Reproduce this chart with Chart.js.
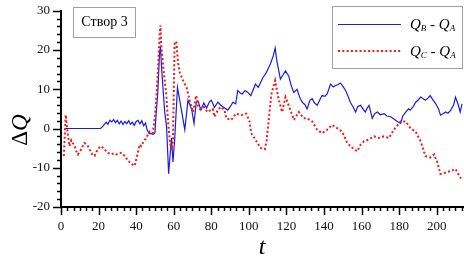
<!DOCTYPE html>
<html>
<head>
<meta charset="utf-8">
<script src="https://cdn.jsdelivr.net/npm/chart.js@4.4.0/dist/chart.umd.min.js"></script>
<style>
  html, body { margin: 0; padding: 0; background: #fff; }
  #wrap { width: 464px; height: 261px; position: relative; }
</style>
</head>
<body>
<div id="wrap"><canvas id="chart" width="464" height="261"></canvas></div>
<script>
// Q_B - Q_A (blue solid)
var tB = [2, 21, 22, 23, 24, 25, 26, 27, 28, 29, 30, 31, 32, 33, 34, 35, 36, 37, 38, 39, 40, 41, 42, 43, 44, 45, 46, 47, 48, 49, 50,
  50.6, 51.5, 52.5, 53, 53.6, 55.2, 56.2, 57.3, 58.8, 59.6, 60.5, 62, 64, 65.9, 67.6, 69.5, 70.8, 72, 73, 74.5, 76, 77.5, 79, 80,
  81.7, 83.5, 85, 86.5, 88.8, 90, 91.5, 93, 94.1, 95.5, 96.5, 98, 99.5, 101, 102, 103.5, 105, 106, 107.5, 109, 110, 111.5, 113, 114,
  115, 116.8, 118, 119.5, 121.2, 122.5, 123.9, 125.7, 127, 128.4, 130, 131, 132.5, 133.7, 135, 136.4, 138, 139, 140.5, 141.7, 143.5,
  145, 146, 147.5, 148.7, 150, 151.5, 153, 154, 155.5, 156.8, 158, 159.5, 161, 162, 163, 164, 165.7, 167, 168.4, 170, 171.9, 173.5,
  175.5, 177, 179, 180.8, 182, 183.5, 185, 186, 187.5, 188.8, 190, 191.5, 193, 194, 195.5, 196.5, 198, 199.5, 201, 202, 203.5,
  204.8, 206, 207.5, 209, 210, 211.5, 212.5, 213.5];
var vB = [0, 0, 0.4, 1.0, 1.6, 1.1, 2.1, 1.7, 2.3, 1.5, 2.1, 1.2, 1.9, 1.0, 1.8, 1.2, 2.0, 1.1, 1.6, 0.8, 1.8, 2.1, 1.2, 2.0, 0.7, 1.4, -0.6, -1.3, -1.3, -1.5, -1.1,
  3.4, 9, 19.7, 20.5, 15, 4.2, 0.5, -11.5, -2.4, -8.5, -3, 10.5, 5, -0.3, 7.2, 5, 1.3, 6.7, 7, 4.7, 6.5, 5.2, 6.8, 7.2,
  5.4, 6.7, 6, 5.4, 4.7, 5.5, 6.7, 6.3, 9.7, 9, 8.8, 9.7, 9.2, 8.4, 9.5, 11.3, 10.5, 11.5, 13, 14, 15, 16.5, 18.5, 20.5,
  17, 12.6, 13.5, 14.7, 13.4, 11, 9.2, 10, 8, 6.7, 6, 5, 7.2, 7.6, 6.5, 5.9, 7.5, 8.4, 8.2, 8.8, 11.3,
  10.6, 10.9, 11.2, 11.6, 10.8, 9.7, 8, 6.7, 5.5, 4.2, 5.6, 5.9, 4.8, 4.2, 5.2, 5.9, 2.6, 3.8, 4.2, 3.5, 3.8, 3.2,
  3, 2.5, 1.8, 1.3, 3.2, 4.2, 5, 4.7, 5.6, 6.7, 7.2, 8, 7.5, 7.2, 7.8, 8.4, 7.3, 6.3, 5, 3.4, 3.8,
  4.2, 3.9, 4.7, 6, 8, 6, 4.2, 6.3];

// Q_C - Q_A (red dotted)
var tC = [1.5, 2.5, 3.5, 4.5, 5.5, 6.3, 7.2, 8.1, 9, 10, 10.8, 11.7, 12.5, 13.4, 14.3, 15.2, 16.1, 17, 17.9, 18.8, 19.6, 20.5,
  21.4, 22.3, 23.2, 24.1, 25, 26, 26.8, 28, 29.4, 30.8, 32.1, 33, 33.9, 34.8, 35.6, 36.5, 37.4, 38.3, 39.2, 40.1, 41, 41.9, 42.7,
  43.6, 44.5, 45.4, 46.3, 47.2, 48, 48.8, 49.7, 50.5, 51.5, 52.5, 53, 53.4, 54.2, 55, 56, 57, 57.9, 58.8, 59.6, 60.5, 61.4, 62.3,
  63.2, 64, 65, 66.8, 68.5, 70.3, 72, 72.8, 73.9, 76, 78, 80.8, 81.7, 83.5, 85, 87, 88, 90.6, 93.2, 96, 98.6, 100.4, 101.2, 103.5,
  106, 108.5, 109.5, 110.3, 112, 114, 115.8, 117.7, 119.5, 121.2, 124, 126.6, 129.2, 131, 133.7, 136.4, 139, 141.7, 144.3, 147,
  149.7, 152.4, 155, 157.7, 159.5, 161.2, 163.9, 166.6, 169.2, 171.9, 174.6, 177.2, 180.8, 183.5, 186, 188.8, 191.5, 194, 196.5,
  198.6, 200.4, 202, 204.8, 207.5, 210, 212.5, 213.5];
var vC = [-7, 3.5, -1, -4.5, -3, -3.7, -4.5, -5.75, -6.6, -5.8, -5.3, -4.3, -3.7, -4, -4.5, -5.3, -6.2, -6.8, -7, -6, -5.3, -4.8,
  -4.5, -4.9, -5.3, -5.8, -6.2, -6.4, -6.6, -6.3, -6.6, -6.4, -6.2, -6.6, -7, -7.6, -8.25, -8.5, -8.7, -9.3, -9.5, -7.8, -6, -4.1, -4.5,
  -3.7, -3, -2.4, -1.5, -0.75, -1, -1.2, 1.8, 6, 14, 24, 26.3, 21, 17, 13, 9, 1.8, -3, -5.5, -3, 21.7, 22.2, 16.75,
  14.3, 13.4, 12.2, 10.5, 7.2, 4.2, 8.4, 5.9, 5, 5.5, 4.2, 5, 3, 4.7, 5.5, 4.7, 2.6, 2.2, 3.8, 3.4, 3.8, 1.8, -1.2, -2.8,
  -4.9, -5.3, -3, 0.9, 8.8, 12.2, 7.6, 4.2, 8, 5.9, 2.2, 4.2, 2.6, 2.6, 1.8, -0.3, -1.2, -0.3, 0.9, 0.1,
  -0.8, -3.7, -4.9, -5.8, -4.1, -3.3, -2.8, -2, -2.4, -2, -2.4, -0.3, 1.8, 1.8, 0.1, -0.8, -3.3, -7, -7.4,
  -6.6, -8.7, -11.6, -11.2, -10.8, -10.3, -12.4, -13.3];

var xTicks = [0, 20, 40, 60, 80, 100, 120, 140, 160, 180, 200];
var yTicks = [-20, -10, 0, 10, 20, 30];
var boxTitle = 'Створ 3';

var BLUE = '#1a1ae0';
var RED = '#f01818';
var SERIF = '"Liberation Serif", "Times New Roman", serif';

function pts(t, v) {
  var out = [];
  for (var i = 0; i < t.length; i++) out.push({x: t[i], y: v[i]});
  return out;
}

// minor / major tick marks, drawn outward
var tickMarks = {
  id: 'tickMarks',
  afterDraw: function(chart) {
    var ctx = chart.ctx, xs = chart.scales.x, ys = chart.scales.y;
    var a = chart.chartArea;
    ctx.save();
    ctx.strokeStyle = '#000';
    ctx.lineWidth = 1.5;
    ctx.beginPath();
    for (var v = -20; v <= 30; v += 2) {
      var py = Math.round(ys.getPixelForValue(v)) + 0.5;
      var len = (v % 10 === 0) ? 8 : 4;
      ctx.moveTo(a.left - len, py);
      ctx.lineTo(a.left, py);
    }
    for (var k = 0; k * 20 / 6 <= 214; k++) {
      var tv = k * 20 / 6;
      var px = Math.round(xs.getPixelForValue(tv)) + 0.5;
      var l2 = (k % 6 === 0) ? 8 : 4;
      ctx.moveTo(px, a.bottom);
      ctx.lineTo(px, a.bottom + l2);
    }
    ctx.stroke();
    ctx.restore();
  }
};

function drawQ(ctx, x, y, sub) {
  ctx.font = 'italic 15px ' + SERIF;
  ctx.fillText('Q', x, y);
  x += ctx.measureText('Q').width;
  ctx.font = 'italic 9px ' + SERIF;
  ctx.fillText(sub, x, y + 4);
  return x + ctx.measureText(sub).width;
}

var decor = {
  id: 'decor',
  afterDraw: function(chart) {
    var ctx = chart.ctx;
    ctx.save();
    // title box
    ctx.strokeStyle = '#a0a0a0';
    ctx.lineWidth = 1;
    ctx.strokeRect(73.5, 7.5, 62, 30);
    ctx.fillStyle = '#000';
    ctx.font = '14px ' + SERIF;
    ctx.textAlign = 'center';
    ctx.textBaseline = 'middle';
    ctx.fillText(boxTitle, 104.5, 22.5);

    // legend box
    ctx.fillStyle = '#fff';
    ctx.fillRect(333, 7, 129, 61);
    ctx.strokeRect(332.5, 6.5, 130, 62);
    ctx.lineWidth = 1.2;
    ctx.strokeStyle = BLUE;
    ctx.beginPath();
    ctx.moveTo(338, 24.5); ctx.lineTo(401, 24.5);
    ctx.stroke();
    ctx.strokeStyle = RED;
    ctx.lineWidth = 2;
    ctx.setLineDash([2, 2.3]);
    ctx.beginPath();
    ctx.moveTo(338, 51); ctx.lineTo(401, 51);
    ctx.stroke();
    ctx.setLineDash([]);

    ctx.fillStyle = '#000';
    ctx.textAlign = 'left';
    ctx.textBaseline = 'middle';
    var x = drawQ(ctx, 410, 25, 'B');
    ctx.font = '15px ' + SERIF;
    ctx.fillText(' - ', x, 25);
    x += ctx.measureText(' - ').width;
    drawQ(ctx, x, 25, 'A');
    x = drawQ(ctx, 410, 52, 'C');
    ctx.font = '15px ' + SERIF;
    ctx.fillText(' - ', x, 52);
    x += ctx.measureText(' - ').width;
    drawQ(ctx, x, 52, 'A');

    // axis titles
    ctx.font = 'italic 24px ' + SERIF;
    ctx.textAlign = 'center';
    ctx.fillText('t', 262, 248);
    ctx.translate(21, 130);
    ctx.rotate(-Math.PI / 2);
    ctx.font = '23px ' + SERIF;
    var dw = ctx.measureText('Δ').width;
    ctx.font = 'italic 23px ' + SERIF;
    var qw = ctx.measureText('Q').width;
    var sx = -(dw + qw) / 2;
    ctx.textAlign = 'left';
    ctx.font = '23px ' + SERIF;
    ctx.fillText('Δ', sx, 0);
    ctx.font = 'italic 23px ' + SERIF;
    ctx.fillText('Q', sx + dw, 0);
    ctx.restore();
  }
};

new Chart(document.getElementById('chart'), {
  type: 'line',
  data: {
    datasets: [{
      label: 'Q_B - Q_A',
      data: pts(tB, vB),
      borderColor: BLUE,
      borderWidth: 1.2,
      pointRadius: 0,
      fill: false,
      tension: 0,
      order: 1
    }, {
      label: 'Q_C - Q_A',
      data: pts(tC, vC),
      borderColor: RED,
      borderWidth: 2,
      borderDash: [2, 2.3],
      pointRadius: 0,
      fill: false,
      tension: 0,
      order: 0
    }]
  },
  options: {
    responsive: false,
    animation: false,
    layout: { padding: { top: 7, right: 1, left: 0, bottom: 0 } },
    plugins: { legend: { display: false }, tooltip: { enabled: false }, title: { display: false } },
    scales: {
      x: {
        type: 'linear',
        min: 0,
        max: 214,
        afterFit: function(s) { s.height = 54; },
        afterBuildTicks: function(s) { s.ticks = xTicks.map(function(v) { return {value: v}; }); },
        grid: { display: true, drawOnChartArea: false, drawTicks: true, tickLength: 8, tickColor: 'rgba(0,0,0,0)' },
        border: { display: true, color: '#000', width: 2 },
        ticks: { color: '#111', padding: 4, maxRotation: 0, font: { family: SERIF, size: 13 } }
      },
      y: {
        type: 'linear',
        min: -20,
        max: 30,
        afterFit: function(s) { s.width = 61; },
        afterBuildTicks: function(s) { s.ticks = yTicks.map(function(v) { return {value: v}; }); },
        grid: { display: true, drawOnChartArea: false, drawTicks: true, tickLength: 8, tickColor: 'rgba(0,0,0,0)' },
        border: { display: true, color: '#000', width: 2 },
        ticks: { color: '#111', padding: 3, font: { family: SERIF, size: 13 } }
      }
    }
  },
  plugins: [tickMarks, decor]
});
</script>
</body>
</html>
